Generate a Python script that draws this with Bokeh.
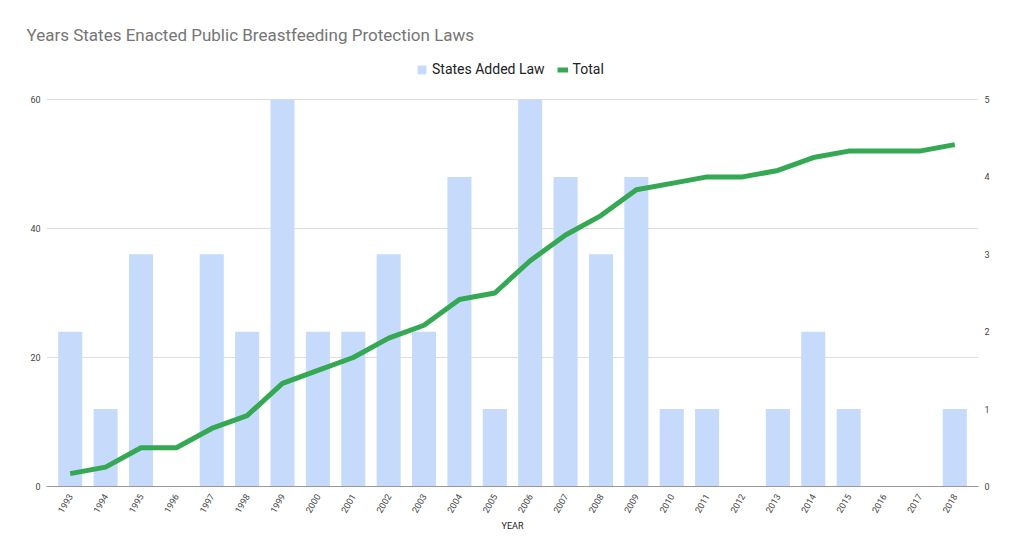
import numpy as np
from bokeh.plotting import figure
from bokeh.models import Range1d, LinearAxis, FixedTicker, Legend, LegendItem, ColumnDataSource
from bokeh.embed import file_html
from bokeh.resources import INLINE

years = [str(y) for y in range(1993, 2019)]
states_added = [2, 1, 3, 0, 3, 2, 5, 2, 2, 3, 2, 4, 1, 5, 4, 3, 4, 1, 1, 0, 1, 2, 1, 0, 0, 1]
total = [2, 3, 6, 6, 9, 11, 16, 18, 20, 23, 25, 29, 30, 35, 39, 42, 46, 47, 48, 48, 49, 51, 52, 52, 52, 53]
left_ticks = [0, 20, 40, 60]
right_ticks = [0, 1, 2, 3, 4, 5]

# layout: plotting area 387px tall for the axis maxima; frame extended upward for the legend
plot_h = 387
extra_h = 50
frame_h = plot_h + extra_h
left_max = max(left_ticks)
right_max = max(right_ticks)

src = ColumnDataSource(dict(year=years, added=states_added, total=total))

p = figure(x_range=years, y_range=Range1d(0, left_max * frame_h / plot_h),
           frame_width=932, frame_height=frame_h,
           output_backend="svg", toolbar_location=None,
           title="Years States Enacted Public Breastfeeding Protection Laws",
           min_border_left=46, min_border_right=38, min_border_top=49, min_border_bottom=60)
p.extra_y_ranges = {"right": Range1d(0, right_max * frame_h / plot_h)}
p.x_range.range_padding = 0.17
p.x_range.range_padding_units = "absolute"

bars = p.vbar(x="year", top="added", width=0.68, source=src, y_range_name="right",
              color="#c6dafc", line_color=None)
line = p.line(x="year", y="total", source=src, line_color="#34a853", line_width=5)

p.yaxis.ticker = FixedTicker(ticks=left_ticks)
ra = LinearAxis(y_range_name="right", ticker=FixedTicker(ticks=right_ticks))
p.add_layout(ra, "right")

for ax in [p.yaxis[0], ra]:
    ax.axis_line_color = None
    ax.major_tick_line_color = None
    ax.minor_tick_line_color = None
    ax.major_label_text_font = "Roboto"
    ax.major_label_text_font_size = "9px"
    ax.major_label_text_color = "#444444"
    ax.major_label_standoff = 0

xa = p.xaxis[0]
xa.axis_line_color = "#999999"
xa.major_tick_line_color = None
xa.minor_tick_line_color = None
xa.major_label_orientation = np.pi / 3
xa.major_label_standoff = 2
xa.major_label_text_font = "Roboto"
xa.major_label_text_font_size = "9px"
xa.major_label_text_color = "#444444"
xa.axis_label = "YEAR"
xa.axis_label_text_font = "Roboto"
xa.axis_label_text_font_size = "9px"
xa.axis_label_text_font_style = "normal"
xa.axis_label_text_color = "#222222"
xa.axis_label_standoff = 2

p.xgrid.grid_line_color = None
p.ygrid.grid_line_color = "#dddddd"
p.outline_line_color = None

legend = Legend(items=[LegendItem(label="States Added Law", renderers=[bars]),
                       LegendItem(label="Total", renderers=[line])],
                orientation="horizontal", location=(370, 409),
                label_text_font="Roboto", label_text_font_size="14px", label_text_color="#222222",
                glyph_width=11, glyph_height=11, spacing=12, label_standoff=5,
                border_line_color=None, background_fill_alpha=0, margin=0, padding=4)
p.add_layout(legend)

p.title.text_font = "Roboto"
p.title.text_font_size = "17px"
p.title.text_font_style = "normal"
p.title.text_color = "#757575"
p.title.offset = -20
p.title.standoff = 10

open("out.html", "w").write(file_html(p, INLINE))
